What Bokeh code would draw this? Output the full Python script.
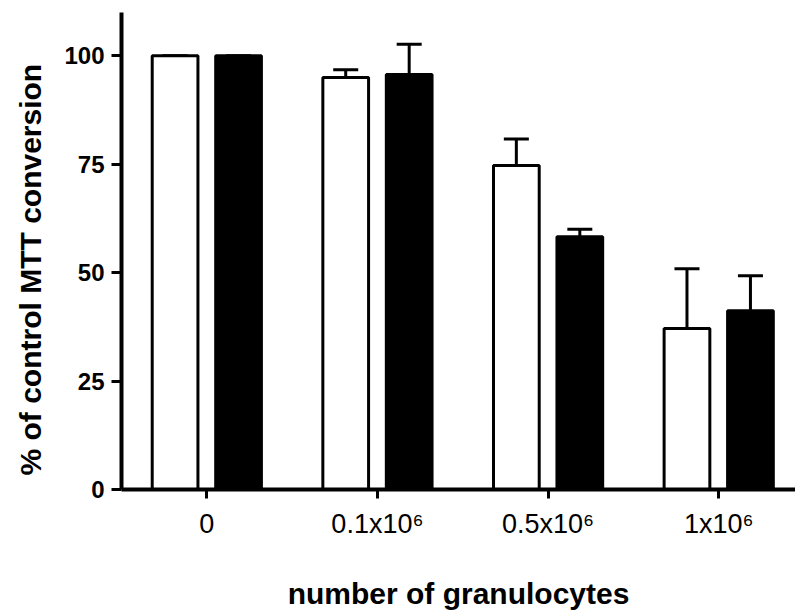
from bokeh.plotting import figure
from bokeh.models import ColumnDataSource, Whisker, TeeHead, FixedTicker, Range1d, Title
from bokeh.embed import file_html
from bokeh.resources import INLINE

# ---- data ----
categories = ["0", "0.1x10⁶", "0.5x10⁶", "1x10⁶"]
white_values = [100, 95.0, 74.7, 37.1]
white_errors = [0, 1.8, 6.1, 13.8]
black_values = [100, 95.7, 58.3, 41.2]
black_errors = [0, 7.0, 1.7, 8.1]
y_ticks = [0, 25, 50, 75, 100]
y_title = "% of control MTT conversion"
x_title = "number of granulocytes"

pos = list(range(len(categories)))
offset = 0.186
bar_w = 0.268

p = figure(width=795, height=612, output_backend="svg", toolbar_location=None,
           x_range=Range1d(-0.5, 3.45), y_range=Range1d(0, 110),
           min_border_left=121, min_border_right=0, min_border_top=12,
           min_border_bottom=123)
p.outline_line_color = None
p.xgrid.visible = False
p.ygrid.visible = False
p.background_fill_color = "white"
p.border_fill_color = "white"

wx = [x - offset for x in pos]
bx = [x + offset for x in pos]
wsrc = ColumnDataSource(dict(x=wx, top=white_values,
                             up=[v + e for v, e in zip(white_values, white_errors)]))
bsrc = ColumnDataSource(dict(x=bx, top=black_values,
                             up=[v + e for v, e in zip(black_values, black_errors)]))

p.vbar(x="x", top="top", bottom=0, width=bar_w, source=wsrc,
       fill_color="white", line_color="black", line_width=3)
p.vbar(x="x", top="top", bottom=0, width=bar_w, source=bsrc,
       fill_color="black", line_color="black", line_width=3)

for src in (wsrc, bsrc):
    w = Whisker(base="x", upper="up", lower="top", source=src,
                line_color="black", line_width=3,
                upper_head=TeeHead(size=25, line_width=3, line_color="black"),
                lower_head=None)
    p.add_layout(w)

# axes
for ax in (p.xaxis[0], p.yaxis[0]):
    ax.axis_line_width = 4
    ax.major_tick_line_width = 3
    ax.minor_tick_line_color = None
    ax.major_tick_in = 0
    ax.axis_label_text_font = "Liberation Sans"
    ax.axis_label_text_font_style = "bold"
    ax.axis_label_text_font_size = "30px"
    ax.axis_label_text_color = "black"
    ax.major_label_text_color = "black"
    ax.axis_line_color = "black"
    ax.major_tick_line_color = "black"

p.yaxis.ticker = FixedTicker(ticks=y_ticks)
p.yaxis.major_tick_out = 10
p.yaxis.major_label_standoff = 7
p.yaxis.major_label_text_font = "Liberation Sans"
p.yaxis.major_label_text_font_style = "bold"
p.yaxis.major_label_text_font_size = "24px"

tkw = dict(text=y_title, align="left", offset=14, vertical_align="top",
           text_font="Liberation Sans", text_font_style="bold",
           text_font_size="30px", text_color="black")
if "standoff" in Title.properties():
    tkw["standoff"] = 25
p.add_layout(Title(**tkw), "left")

p.xaxis.ticker = FixedTicker(ticks=pos)
p.xaxis.major_label_overrides = {i: c for i, c in zip(pos, categories)}
p.xaxis.major_tick_out = 9
p.xaxis.major_label_standoff = 10
p.xaxis.major_label_text_font = "Liberation Sans"
p.xaxis.major_label_text_font_size = "27px"
p.xaxis.axis_label = x_title
p.xaxis.axis_label_standoff = 35

open("out.html", "w").write(file_html(p, INLINE))
